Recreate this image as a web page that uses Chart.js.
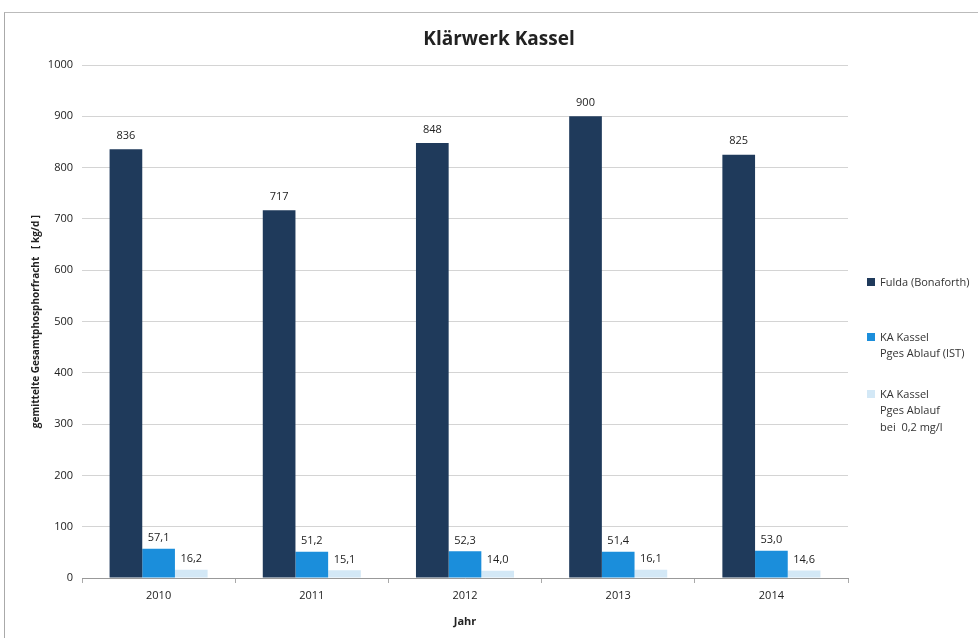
<!DOCTYPE html>
<html>
<head>
<meta charset="utf-8">
<script src="https://cdn.jsdelivr.net/npm/chart.js@4.4.1/dist/chart.umd.min.js"></script>
<style>
  html, body { margin: 0; padding: 0; background: #fff; }
  #wrap { position: relative; width: 978px; height: 638px; overflow: hidden; }
  #frame { position: absolute; left: 4px; top: 12px; width: 990px; height: 640px;
           border-left: 1px solid #aaa; border-top: 1px solid #bbb; }
  #legend { position: absolute; left: 867px; top: 274px; font-family: "Open Sans", sans-serif;
            font-size: 11px; color: #333; line-height: 16.5px; }
  .item { position: relative; padding-left: 13px; margin-bottom: 22px; }
  .box { position: absolute; left: 0; top: 4px; width: 8px; height: 8px; }
</style>
</head>
<body>
<div id="wrap">
  <canvas id="chart" width="978" height="638"></canvas>
  <div id="frame"></div>
  <div id="legend"></div>
</div>
<script>
console.log("chart loaded");

const years = ["2010", "2011", "2012", "2013", "2014"];
const fulda = [836, 717, 848, 900, 825];
const kaIst = [57.1, 51.2, 52.3, 51.4, 53.0];
const kaSoll = [16.2, 15.1, 14.0, 16.1, 14.6];
const seriesNames = [
    ["Fulda (Bonaforth)"],
    ["KA Kassel", "Pges Ablauf (IST)"],
    ["KA Kassel", "Pges Ablauf", "bei\u00a0 0,2 mg/l"]
];
const seriesColors = ["#1f3a5b", "#1b8edb", "#d3e8f6"];
const yTicks = [0, 100, 200, 300, 400, 500, 600, 700, 800, 900, 1000];
const chartTitle = "Klärwerk Kassel";

function fmt(v, dsIdx) {
    // dark series without decimals, the others with a comma decimal
    if (dsIdx === 0) return String(Math.round(v));
    return v.toFixed(1).replace(".", ",");
}

// draw the values above the bars
const valueLabels = {
    id: "valueLabels",
    afterDatasetsDraw(chart) {
        const ctx = chart.ctx;
        ctx.save();
        ctx.font = "11px 'Open Sans', sans-serif";
        ctx.fillStyle = "#222";
        ctx.textAlign = "center";
        ctx.textBaseline = "bottom";
        chart.data.datasets.forEach((ds, i) => {
            const meta = chart.getDatasetMeta(i);
            meta.data.forEach((bar, j) => {
                const gap = i === 0 ? 8 : 5;
                ctx.fillText(fmt(ds.data[j], i), bar.x, bar.y - gap);
            });
        });
        ctx.restore();
    }
};

// title centred over the whole page, not only the plot box
const pageTitle = {
    id: "pageTitle",
    afterDraw(chart) {
        const ctx = chart.ctx;
        ctx.save();
        ctx.font = "bold 19px 'Open Sans', sans-serif";
        ctx.fillStyle = "#222";
        ctx.textAlign = "center";
        ctx.textBaseline = "middle";
        ctx.fillText(chartTitle, 499, 40);
        ctx.restore();
    }
};

const data = [fulda, kaIst, kaSoll];

new Chart(document.getElementById("chart"), {
    type: "bar",
    data: {
        labels: years,
        datasets: data.map((d, i) => ({
            label: seriesNames[i].join(" "),
            data: d,
            backgroundColor: seriesColors[i],
            borderWidth: 0,
            categoryPercentage: 0.64,
            barPercentage: 1.0
        }))
    },
    options: {
        responsive: false,
        animation: false,
        layout: { padding: { left: 0, right: 130, top: 65, bottom: 10 } },
        plugins: {
            legend: { display: false },
            tooltip: { enabled: false },
            title: { display: false }
        },
        scales: {
            x: {
                afterFit(scale) { scale.height = 50; },
                grid: { display: true, drawOnChartArea: false, drawTicks: true, tickLength: 5, color: "#aaa", offset: true },
                border: { color: "#999" },
                ticks: { color: "#222", font: { family: "'Open Sans', sans-serif", size: 11 }, padding: 6 },
                title: {
                    display: true, text: "Jahr", color: "#222",
                    font: { family: "'Open Sans', sans-serif", size: 11, weight: "bold" },
                    padding: { top: 6, bottom: 0 }
                }
            },
            y: {
                min: 0,
                max: 1000,
                afterFit(scale) { scale.width = 82; },
                afterBuildTicks(scale) { scale.ticks = yTicks.map(v => ({ value: v })); },
                grid: { color: "#d4d4d4", drawTicks: false },
                border: { display: false },
                ticks: {
                    color: "#222", font: { family: "'Open Sans', sans-serif", size: 11 }, padding: 9,
                    callback: v => String(v)
                },
                title: {
                    display: true,
                    text: "gemittelte Gesamtphosphorfracht   [ kg/d ]",
                    color: "#222",
                    font: { family: "'Open Sans', sans-serif", size: 10, weight: "bold" },
                    padding: { top: 30, bottom: 0 }
                }
            }
        }
    },
    plugins: [valueLabels, pageTitle]
});

// legend on the right, multi-line labels
const legend = document.getElementById("legend");
seriesNames.forEach((lines, i) => {
    const item = document.createElement("div");
    item.className = "item";
    const box = document.createElement("span");
    box.className = "box";
    box.style.background = seriesColors[i];
    item.appendChild(box);
    lines.forEach(t => {
        const l = document.createElement("div");
        l.textContent = t;
        item.appendChild(l);
    });
    if (i === 0) item.style.marginBottom = "38px";
    if (i === 1) item.style.marginBottom = "24px";
    legend.appendChild(item);
});
</script>
</body>
</html>
